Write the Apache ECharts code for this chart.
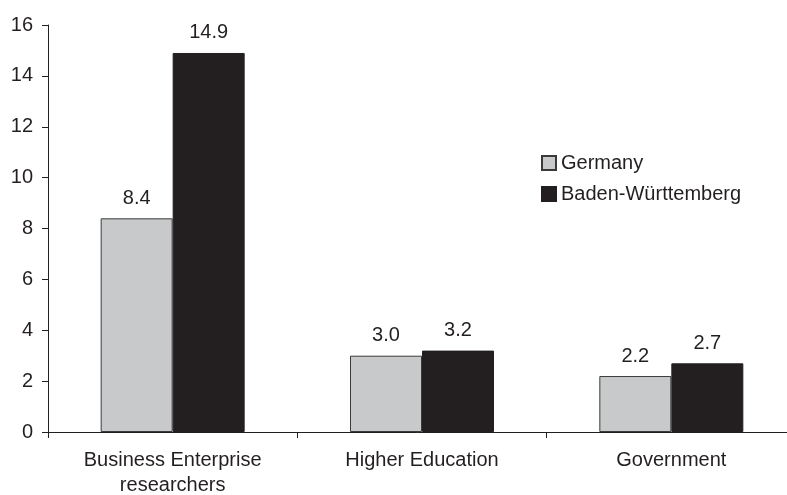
<!DOCTYPE html>
<html>
<head>
<meta charset="utf-8">
<script src="https://cdn.jsdelivr.net/npm/echarts@6/dist/echarts.min.js"></script>
<style>html,body{margin:0;padding:0;background:#fff;}#c{width:787px;height:495px;}</style>
</head>
<body>
<div id="c"></div>
<script>
const categories = ['Business Enterprise\nresearchers', 'Higher Education', 'Government'];
const germany = [8.4, 3.0, 2.2];
const badenWuerttemberg = [14.9, 3.2, 2.7];
const seriesNames = ['Germany', 'Baden-Württemberg'];
const yTicks = [0, 2, 4, 6, 8, 10, 12, 14, 16];

const ink = '#231f20';
const font = 'Liberation Sans, Arial, sans-serif';
const fs = 20;
const chart = echarts.init(document.getElementById('c'), null, {renderer: 'canvas'});
const labelCfg = {
  show: true, position: 'top', distance: 10, color: ink, fontSize: fs, fontFamily: font,
  formatter: p => p.value.toFixed(1)
};
chart.setOption({
  animation: false,
  backgroundColor: '#fff',
  grid: {left: 48, top: 25, width: 748, bottom: 63, containLabel: false, outerBoundsMode: 'none'},
  legend: {
    orient: 'vertical', left: 541, top: 153, padding: 0, itemWidth: 14, itemHeight: 14, itemGap: 11,
    textStyle: {color: ink, fontSize: fs, fontFamily: font},
    data: seriesNames.map(n => ({name: n, icon: 'rect'}))
  },
  xAxis: {
    type: 'category', data: categories,
    axisLine: {lineStyle: {color: ink, width: 1}},
    axisTick: {show: true, length: 6, inside: false, lineStyle: {color: ink}},
    axisLabel: {color: ink, fontSize: fs, fontFamily: font, margin: 16, lineHeight: 25}
  },
  yAxis: {
    type: 'value', min: yTicks[0], max: yTicks[yTicks.length - 1], interval: 2,
    axisLine: {show: true, lineStyle: {color: ink, width: 1}},
    axisTick: {show: true, length: 6, lineStyle: {color: ink}},
    splitLine: {show: false},
    axisLabel: {color: ink, fontSize: fs, fontFamily: font, margin: 15}
  },
  series: [
    {name: seriesNames[0], type: 'bar', data: germany, barWidth: 72, barGap: '0%',
     itemStyle: {color: '#c8c9ca', borderColor: '#3a3a3a', borderWidth: 1}, label: labelCfg},
    {name: seriesNames[1], type: 'bar', data: badenWuerttemberg, barWidth: 72, barGap: '0%',
     itemStyle: {color: ink, borderColor: ink, borderWidth: 1}, label: labelCfg}
  ]
});
</script>
</body>
</html>
